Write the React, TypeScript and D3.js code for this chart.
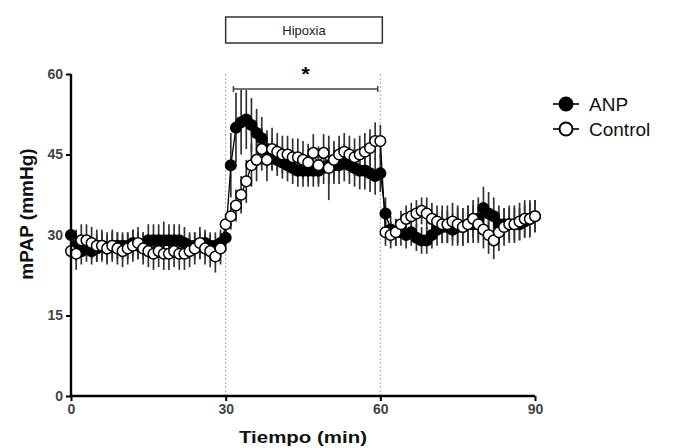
import React, { useRef, useEffect } from "react";
import * as d3 from "d3";

// minutes 0..90, one reading per minute
const minutes: number[] = d3.range(0, 91);

const anpMean: number[] = [
  30, 28, 27, 27.5, 27, 27.5, 28, 27.5, 28, 28,
  28, 28, 28.5, 28, 28, 29, 29, 29, 29, 29,
  29, 29, 28.5, 28, 28, 28, 28.5, 28, 28, 28.5,
  29.5, 43, 50, 51, 51.5, 50.5, 49, 48, 46, 45,
  44, 43.5, 43, 42.5, 42, 42, 42, 42, 42, 42.5,
  43, 43, 43, 43.5, 43, 42.5, 42, 42, 41.5, 41,
  41.5, 34, 31, 30.5, 30.5, 30, 30.5, 29.5, 29, 29,
  30, 31, 31.5, 31.5, 31, 31.5, 31.5, 32, 32, 33,
  35, 34, 33.5, 32, 32, 32, 32, 32, 32.5, 33,
  33.5,
];
const anpSem: number[] = [
  5, 3, 2.5, 2.5, 2.5, 2.5, 2.5, 2.5, 2.5, 2.5,
  2.5, 2.5, 2.5, 2.5, 2.5, 3, 3, 3, 3.5, 3,
  3, 3, 3, 2.5, 2.5, 2.5, 2.5, 2.5, 2.5, 2.5,
  2.5, 6, 6.5, 6, 5.5, 5, 4.5, 4, 3.5, 3,
  3, 3, 3, 3, 3, 3, 3, 3, 3, 3,
  3.5, 3.5, 3.5, 3.5, 3.5, 3.5, 3.5, 3.5, 3.5, 3.5,
  3.5, 3, 2.5, 2.5, 2.5, 2.5, 2.5, 2.5, 2.5, 2.5,
  2.5, 3, 3, 3, 3, 3.5, 3.5, 3.5, 3.5, 4,
  4, 4, 3.5, 3.5, 3, 3, 3, 3, 3, 3,
  3,
];

const ctlMean: number[] = [
  27, 26.5, 29, 29, 28.5, 28, 28, 27.5, 28, 27.5,
  27, 27.5, 28, 28.5, 27.5, 27, 26.5, 27, 26.5, 26.5,
  27, 26.5, 26.5, 27, 27.5, 28.5, 27.5, 27, 26, 27.5,
  32, 33.5, 35.5, 37.5, 40, 43, 44, 46, 44, 46,
  45.5, 45, 45, 44.5, 44.5, 44, 43.5, 45.3, 43, 45.3,
  42.5, 44, 45, 45.5, 45, 44.5, 45, 45.5, 46.2, 47.5,
  47.5, 30.5, 30, 30.5, 32, 33, 33.5, 34, 34.5, 34,
  33, 32.5, 32, 32, 32.5, 32, 31.5, 32, 33, 32,
  31, 30, 29, 30.5, 31.5, 32, 32, 32.5, 33, 33,
  33.5,
];
const ctlSem: number[] = [
  4, 3, 3, 3, 3, 3, 3, 3, 3, 3,
  3, 3, 3, 3, 3, 3, 3, 3, 3, 3,
  3, 3, 3, 3, 3, 3, 3, 3, 3, 3,
  2, 2.5, 3, 3.5, 4, 4, 4, 4, 4, 4,
  3.5, 3.5, 3.5, 3.5, 3.5, 3.5, 3.5, 3.5, 3.5, 3.5,
  6, 3.5, 3.5, 3.5, 3.5, 3.5, 3.5, 3.5, 3.5, 3.5,
  3, 2.5, 2.5, 2.5, 2.5, 2.5, 2.5, 2.5, 2.5, 3,
  3, 3, 3.5, 3.5, 3.5, 3.5, 3.5, 3.5, 3.5, 3.5,
  3.5, 3.5, 3.5, 3.5, 3.5, 3.5, 3.5, 3.5, 3.5, 3.5,
  3,
];

const yTicks: number[] = [0, 15, 30, 45, 60];
const xTicks: number[] = [0, 30, 60, 90];
const hypoxia: number[] = [30, 60];

const App = () => {
  const ref = useRef<SVGSVGElement>(null);
  const width = 680;
  const height = 448;

  useEffect(() => {
    const svg = d3.select(ref.current);
    svg.selectAll("*").remove();
    const font = "Liberation Sans, Arial, sans-serif";

    const x = d3.scaleLinear().domain([0, 90]).range([71, 535]);
    const y = d3.scaleLinear().domain([0, 60]).range([396, 74]);

    // dotted lines marking hypoxia
    svg
      .selectAll(".hyp")
      .data(hypoxia)
      .enter()
      .append("line")
      .attr("x1", (d) => x(d))
      .attr("x2", (d) => x(d))
      .attr("y1", y(60))
      .attr("y2", y(0))
      .attr("stroke", "#aaa")
      .attr("stroke-width", 1)
      .attr("stroke-dasharray", "2,2");

    // hypoxia box
    svg
      .append("rect")
      .attr("x", x(30))
      .attr("y", 17)
      .attr("width", x(60) + 2 - x(30))
      .attr("height", 26)
      .attr("fill", "#fff")
      .attr("stroke", "#333")
      .attr("stroke-width", 1.5);
    svg
      .append("text")
      .attr("x", (x(30) + x(60) + 2) / 2)
      .attr("y", 35)
      .attr("text-anchor", "middle")
      .attr("font-family", font)
      .attr("font-size", 13)
      .attr("fill", "#222")
      .text("Hipoxia");

    // significance bracket
    const bx0 = x(31.5);
    const bx1 = x(59.5);
    svg
      .append("path")
      .attr("d", `M${bx0},86V92M${bx0},89H${bx1}M${bx1},86V92`)
      .attr("fill", "none")
      .attr("stroke", "#444")
      .attr("stroke-width", 1.5);
    svg
      .append("text")
      .attr("x", (bx0 + bx1) / 2)
      .attr("y", 81)
      .attr("text-anchor", "middle")
      .attr("font-family", font)
      .attr("font-size", 21)
      .attr("font-weight", "bold")
      .text("*");

    const series = [
      { mean: anpMean, sem: anpSem, fill: "#000" },
      { mean: ctlMean, sem: ctlSem, fill: "#fff" },
    ];

    const line = d3
      .line<number>()
      .x((d, i) => x(minutes[i]))
      .y((d) => y(d));

    series.forEach((s) => {
      const g = svg.append("g");
      g.selectAll("line")
        .data(s.mean)
        .enter()
        .append("line")
        .attr("x1", (d, i) => x(minutes[i]))
        .attr("x2", (d, i) => x(minutes[i]))
        .attr("y1", (d, i) => y(d + s.sem[i]))
        .attr("y2", (d, i) => y(d - s.sem[i]))
        .attr("stroke", "#333")
        .attr("stroke-width", 1.7);
      g.append("path")
        .attr("d", line(s.mean))
        .attr("fill", "none")
        .attr("stroke", "#000")
        .attr("stroke-width", 1.3);
    });

    series.forEach((s) => {
      svg
        .append("g")
        .selectAll("circle")
        .data(s.mean)
        .enter()
        .append("circle")
        .attr("cx", (d, i) => x(minutes[i]))
        .attr("cy", (d) => y(d))
        .attr("r", 5.3)
        .attr("fill", s.fill)
        .attr("stroke", "#000")
        .attr("stroke-width", 1.5);
    });

    // axes
    const yAxis = d3.axisLeft(y).tickValues(yTicks).tickSize(5).tickPadding(3);
    const xAxis = d3.axisBottom(x).tickValues(xTicks).tickSize(5).tickPadding(3);
    const gy = svg.append("g").attr("transform", `translate(${x(0)},0)`).call(yAxis);
    const gx = svg.append("g").attr("transform", `translate(0,${y(0)})`).call(xAxis);
    [gx, gy].forEach((g) => {
      g.select(".domain").attr("stroke", "#000").attr("stroke-width", 2.4);
      g.selectAll(".tick line").attr("stroke", "#000").attr("stroke-width", 2);
      g.selectAll(".tick text")
        .attr("font-family", font)
        .attr("font-size", 14)
        .attr("font-weight", "bold")
        .attr("fill", "#444");
    });
    gy.select(".domain").attr("d", `M0,${y(60)}V${y(0)}`);
    gx.select(".domain").attr("d", `M${x(0)},0H${x(90)}`);

    svg
      .append("text")
      .attr("transform", `translate(33,214) rotate(-90)`)
      .attr("text-anchor", "middle")
      .attr("font-family", font)
      .attr("font-size", 19)
      .attr("font-weight", "bold")
      .attr("fill", "#111")
      .text("mPAP (mmHg)");
    svg
      .append("text")
      .attr("x", 303)
      .attr("y", 443)
      .attr("text-anchor", "middle")
      .attr("font-family", font)
      .attr("font-size", 17)
      .attr("font-weight", "bold")
      .attr("fill", "#111")
      .attr("textLength", 128)
      .attr("lengthAdjust", "spacingAndGlyphs")
      .text("Tiempo (min)");

    // legend
    const legend = [
      { label: "ANP", fill: "#000" },
      { label: "Control", fill: "#fff" },
    ];
    legend.forEach((l, i) => {
      const ly = 104 + i * 25;
      svg
        .append("line")
        .attr("x1", 553)
        .attr("x2", 579)
        .attr("y1", ly)
        .attr("y2", ly)
        .attr("stroke", "#000")
        .attr("stroke-width", 1.6);
      svg
        .append("circle")
        .attr("cx", 566)
        .attr("cy", ly)
        .attr("r", 6.5)
        .attr("fill", l.fill)
        .attr("stroke", "#000")
        .attr("stroke-width", 2);
      svg
        .append("text")
        .attr("x", 589)
        .attr("y", ly + 7)
        .attr("font-family", font)
        .attr("font-size", 19)
        .attr("fill", "#111")
        .text(l.label);
    });
  }, []);

  return (
    <svg
      ref={ref}
      width={width}
      height={height}
      style={{ position: "absolute", left: 0, top: 0, background: "#fff" }}
    />
  );
};

export default App;
